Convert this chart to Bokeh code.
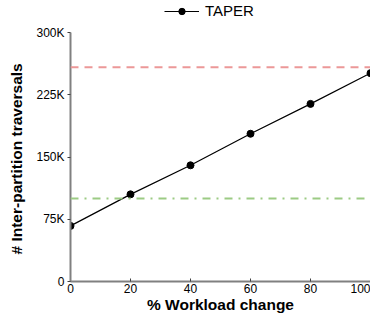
from bokeh.plotting import figure
from bokeh.models import Range1d, FixedTicker, Span, Legend, LegendItem, Title
from bokeh.embed import file_html
from bokeh.resources import INLINE

workload_change = [0, 20, 40, 60, 80, 100]
taper_traversals = [67000, 105000, 140000, 178000, 214000, 251000]
red_baseline = 258000
green_baseline = 100000
y_ticks = [0, 75000, 150000, 225000, 300000]
y_tick_labels = ["0", "75K", "150K", "225K", "300K"]
x_ticks = [0, 20, 40, 60, 80, 100]

FONT = "Liberation Sans"
AXIS_COLOR = "#808080"

# frame spans the full height above the x axis; axis line bounded to 0..300K
y_top = 300000 * 281 / 249

p = figure(width=370, height=315, output_backend="svg", toolbar_location=None,
           x_range=Range1d(0, 100), y_range=Range1d(0, y_top),
           min_border_left=70, min_border_right=0, min_border_top=0, min_border_bottom=32)
p.outline_line_color = None
p.grid.visible = False
p.background_fill_color = "white"

for ax in (p.xaxis[0], p.yaxis[0]):
    ax.axis_line_color = AXIS_COLOR
    ax.axis_line_width = 2
    ax.major_tick_line_color = "#404040"
    ax.minor_tick_line_color = None
    ax.major_label_text_font = FONT
    ax.major_label_text_font_size = "12px"
    ax.major_label_text_color = "black"
    ax.axis_label_text_font = FONT
    ax.axis_label_text_font_size = "15.5px"
    ax.axis_label_text_font_style = "bold"
    ax.axis_label_text_color = "black"

p.xaxis.ticker = FixedTicker(ticks=x_ticks)
p.xaxis.major_tick_in = 3
p.xaxis.major_tick_out = 0
p.xaxis.major_label_standoff = 2
p.xaxis.axis_label = "% Workload change"
p.xaxis.axis_label_standoff = 0

p.yaxis.ticker = FixedTicker(ticks=y_ticks)
p.yaxis.bounds = (0, 300000)
p.yaxis.major_label_overrides = {t: l for t, l in zip(y_ticks, y_tick_labels)}
p.yaxis.major_tick_in = 0
p.yaxis.major_tick_out = 3
p.yaxis.major_label_standoff = 3

ylabel = Title(text="# Inter-partition traversals", align="left", offset=27,
               vertical_align="top", standoff=13,
               text_font=FONT, text_font_size="15.5px", text_font_style="bold",
               text_color="black")
p.add_layout(ylabel, "left")

p.add_layout(Span(location=red_baseline, dimension="width", line_color="#ec9898",
                  line_width=2, line_dash="8 6"))
p.add_layout(Span(location=green_baseline, dimension="width", line_color="#9ccb84",
                  line_width=2, line_dash="8 6 2 6"))

l = p.line(workload_change, taper_traversals, line_color="black", line_width=1.2)
s = p.scatter(workload_change, taper_traversals, size=7, marker="circle",
              fill_color="black", line_color="black")

legend = Legend(items=[LegendItem(label="TAPER", renderers=[l, s])],
                location=(94, 262), orientation="horizontal",
                border_line_color=None, background_fill_alpha=0,
                padding=0, margin=0, glyph_width=35, glyph_height=16,
                label_standoff=6, label_text_font=FONT, label_text_font_size="15px",
                label_text_color="black", label_height=16)
p.add_layout(legend, "center")

open("out.html", "w").write(file_html(p, INLINE))
